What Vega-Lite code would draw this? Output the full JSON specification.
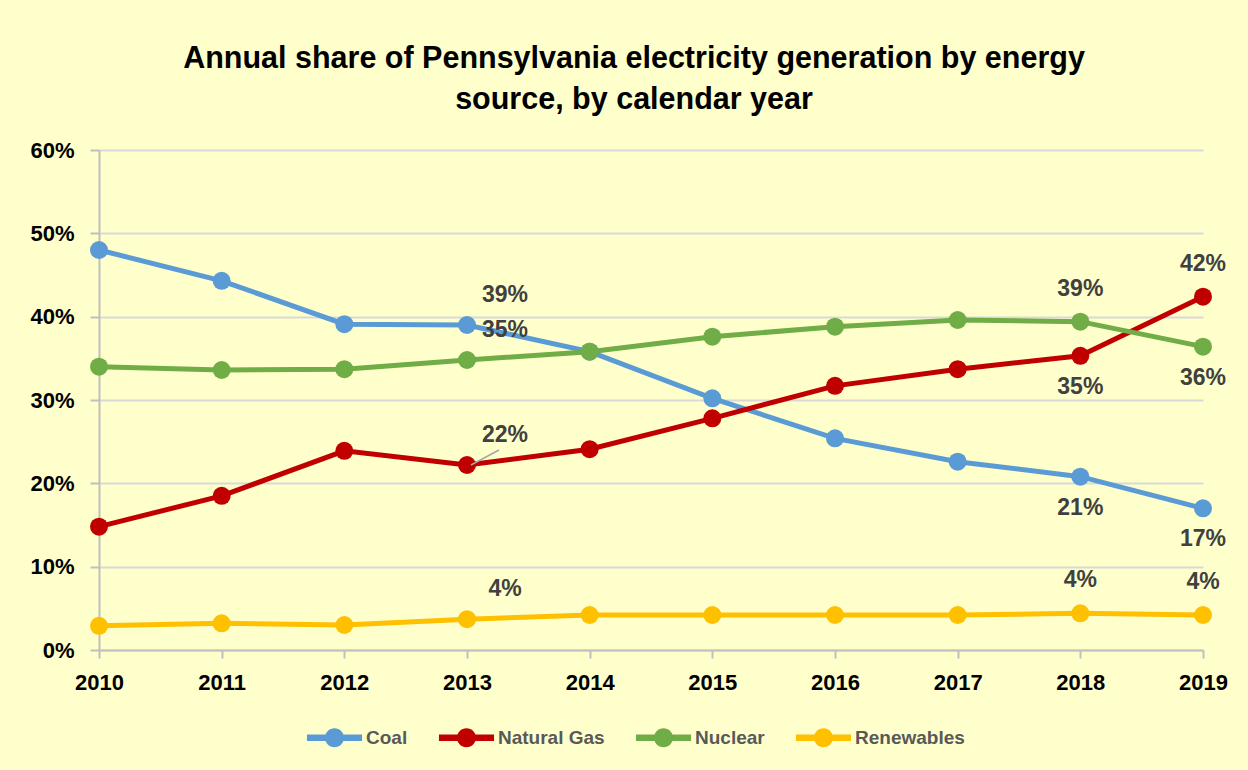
{
  "$schema": "https://vega.github.io/schema/vega-lite/v6.json",
  "width": 1104,
  "height": 500,
  "autosize": {"type": "none"},
  "padding": {"left": 99, "top": 150, "right": 45, "bottom": 120},
  "background": "#FFFFCC",
  "title": {
    "text": ["Annual share of Pennsylvania electricity generation by energy", "source, by calendar year"],
    "font": "Liberation Sans",
    "fontSize": 30.5,
    "fontWeight": "bold",
    "color": "#000000",
    "anchor": "middle",
    "dx": -17,
    "offset": 24,
    "lineHeight": 41
  },
  "config": {
    "view": {"stroke": null},
    "font": "Liberation Sans",
    "axis": {"labelFont": "Liberation Sans", "labelFontWeight": "bold", "labelColor": "#000000"},
    "legend": {"labelFont": "Liberation Sans"}
  },
  "data": {
    "values": [
      {"year": 2010, "series": "Coal", "value": 0.480},
      {"year": 2011, "series": "Coal", "value": 0.443},
      {"year": 2012, "series": "Coal", "value": 0.391},
      {"year": 2013, "series": "Coal", "value": 0.390},
      {"year": 2014, "series": "Coal", "value": 0.358},
      {"year": 2015, "series": "Coal", "value": 0.302},
      {"year": 2016, "series": "Coal", "value": 0.254},
      {"year": 2017, "series": "Coal", "value": 0.226},
      {"year": 2018, "series": "Coal", "value": 0.208},
      {"year": 2019, "series": "Coal", "value": 0.170},
      {"year": 2010, "series": "Natural Gas", "value": 0.148},
      {"year": 2011, "series": "Natural Gas", "value": 0.185},
      {"year": 2012, "series": "Natural Gas", "value": 0.239},
      {"year": 2013, "series": "Natural Gas", "value": 0.222},
      {"year": 2014, "series": "Natural Gas", "value": 0.241},
      {"year": 2015, "series": "Natural Gas", "value": 0.278},
      {"year": 2016, "series": "Natural Gas", "value": 0.317},
      {"year": 2017, "series": "Natural Gas", "value": 0.337},
      {"year": 2018, "series": "Natural Gas", "value": 0.353},
      {"year": 2019, "series": "Natural Gas", "value": 0.424},
      {"year": 2010, "series": "Nuclear", "value": 0.340},
      {"year": 2011, "series": "Nuclear", "value": 0.336},
      {"year": 2012, "series": "Nuclear", "value": 0.337},
      {"year": 2013, "series": "Nuclear", "value": 0.348},
      {"year": 2014, "series": "Nuclear", "value": 0.358},
      {"year": 2015, "series": "Nuclear", "value": 0.376},
      {"year": 2016, "series": "Nuclear", "value": 0.388},
      {"year": 2017, "series": "Nuclear", "value": 0.396},
      {"year": 2018, "series": "Nuclear", "value": 0.394},
      {"year": 2019, "series": "Nuclear", "value": 0.364},
      {"year": 2010, "series": "Renewables", "value": 0.029},
      {"year": 2011, "series": "Renewables", "value": 0.032},
      {"year": 2012, "series": "Renewables", "value": 0.030},
      {"year": 2013, "series": "Renewables", "value": 0.037},
      {"year": 2014, "series": "Renewables", "value": 0.042},
      {"year": 2015, "series": "Renewables", "value": 0.042},
      {"year": 2016, "series": "Renewables", "value": 0.042},
      {"year": 2017, "series": "Renewables", "value": 0.042},
      {"year": 2018, "series": "Renewables", "value": 0.044},
      {"year": 2019, "series": "Renewables", "value": 0.042}
    ]
  },
  "encoding": {
    "x": {
      "field": "year",
      "type": "ordinal",
      "scale": {"type": "point", "padding": 0},
      "axis": {
        "title": null,
        "labelAngle": 0,
        "labelFontSize": 22,
        "labelPadding": 14,
        "domainColor": "#BFBFBF",
        "domainWidth": 2,
        "tickColor": "#BFBFBF",
        "tickWidth": 2,
        "tickSize": 8,
        "grid": false
      }
    },
    "y": {
      "field": "value",
      "type": "quantitative",
      "scale": {"domain": [0, 0.6], "nice": false},
      "axis": {
        "title": null,
        "format": ".0%",
        "values": [0, 0.1, 0.2, 0.3, 0.4, 0.5, 0.6],
        "labelFontSize": 22,
        "labelPadding": 16,
        "domainColor": "#BFBFBF",
        "domainWidth": 2,
        "tickColor": "#BFBFBF",
        "tickWidth": 2,
        "tickSize": 9,
        "gridColor": "#D9D9D9",
        "gridWidth": 2
      }
    }
  },
  "layer": [
    {
      "mark": {"type": "line", "strokeWidth": 5},
      "encoding": {
        "color": {
          "field": "series",
          "type": "nominal",
          "scale": {"domain": ["Coal", "Natural Gas", "Nuclear", "Renewables"], "range": ["#5B9BD5", "#C00000", "#70AD47", "#FFC000"]}
        }
      }
    },
    {
      "mark": {"type": "point", "filled": true, "size": 324, "opacity": 1},
      "encoding": {
        "color": {
          "field": "series",
          "type": "nominal",
          "legend": {
            "title": null,
            "orient": "none",
            "direction": "horizontal",
            "legendX": 226,
            "legendY": 578,
            "padding": 0,
            "labelFontSize": 19,
            "labelFontWeight": "bold",
            "labelColor": "#595959",
            "symbolType": "M-2.9,-0.33H2.9V0.33H-2.9Z M0,-1A1,1 0 1,1 0,1A1,1 0 1,1 0,-1Z",
            "symbolSize": 361,
            "symbolStrokeWidth": 0,
            "symbolOpacity": 1,
            "labelOffset": 22,
            "columnPadding": 30,
            "encode": {
              "symbols": {"update": {"fill": {"scale": "color", "field": "value"}, "strokeWidth": {"value": 0}, "opacity": {"value": 1}}}
            }
          }
        }
      }
    },
    {
      "transform": [{"filter": "datum.year == 2013 && datum.series == 'Natural Gas'"}],
      "mark": {"type": "rule", "color": "#A6A6A6", "strokeWidth": 1.5, "xOffset": 4, "x2Offset": 32},
      "encoding": {
        "x2": {"field": "year"},
        "y2": {"datum": 0.240}
      }
    },
    {
      "transform": [{"filter": "datum.year == 2013"}],
      "mark": {"type": "text", "font": "Liberation Sans", "fontSize": 23, "fontWeight": "bold", "color": "#404040", "dx": 38, "dy": -30, "baseline": "middle"},
      "encoding": {"text": {"field": "value", "format": ".0%"}}
    },
    {
      "transform": [{"filter": "(datum.year == 2018 && (datum.series == 'Nuclear' || datum.series == 'Renewables')) || (datum.year == 2019 && (datum.series == 'Natural Gas' || datum.series == 'Renewables'))"}],
      "mark": {"type": "text", "font": "Liberation Sans", "fontSize": 23, "fontWeight": "bold", "color": "#404040", "dy": -33, "baseline": "middle"},
      "encoding": {"text": {"field": "value", "format": ".0%"}}
    },
    {
      "transform": [{"filter": "(datum.year == 2018 && (datum.series == 'Natural Gas' || datum.series == 'Coal')) || (datum.year == 2019 && (datum.series == 'Nuclear' || datum.series == 'Coal'))"}],
      "mark": {"type": "text", "font": "Liberation Sans", "fontSize": 23, "fontWeight": "bold", "color": "#404040", "dy": 31, "baseline": "middle"},
      "encoding": {"text": {"field": "value", "format": ".0%"}}
    }
  ]
}
